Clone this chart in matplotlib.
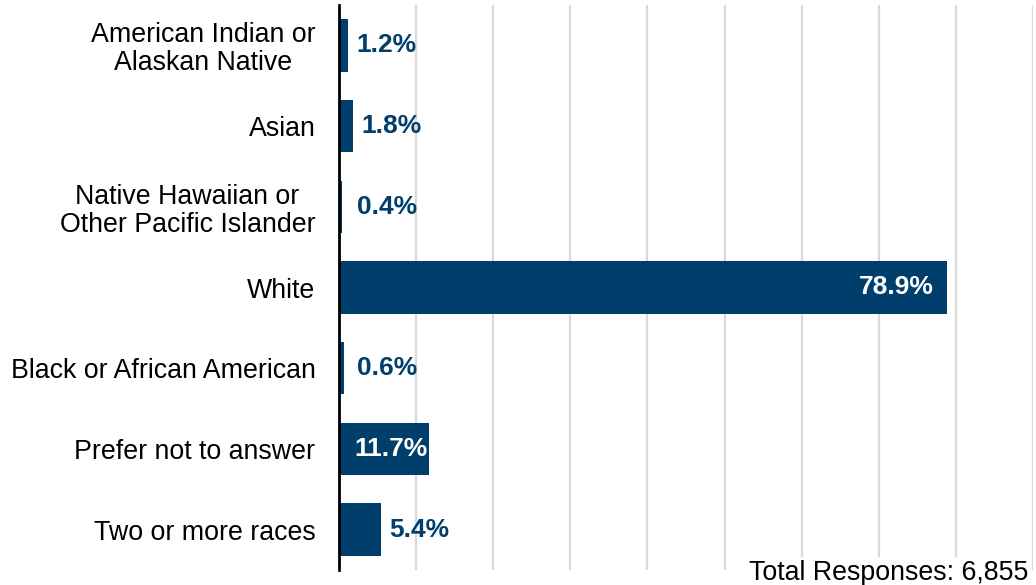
import matplotlib
matplotlib.use("Agg")
import matplotlib.pyplot as plt

# datos
categorias = ["American Indian or\nAlaskan Native", "Asian",
              "Native Hawaiian or\nOther Pacific Islander", "White",
              "Black or African American", "Prefer not to answer",
              "Two or more races"]
valores = [1.2, 1.8, 0.4, 78.9, 0.6, 11.7, 5.4]
etiquetas = ["1.2%", "1.8%", "0.4%", "78.9%", "0.6%", "11.7%", "5.4%"]
total_texto = "Total Responses: 6,855"

azul = "#003F6B"
plt.rcParams['font.family'] = ['Liberation Sans', 'DejaVu Sans']

fig = plt.figure(figsize=(10.36, 5.85), dpi=100)
ax = fig.add_axes([339 / 1036, 15 / 585, (1033 - 339) / 1036, 565 / 585])

y = list(range(len(categorias)))
ax.barh(y, valores, height=0.65, color=azul, zorder=3)
ax.set_ylim(len(categorias) - 0.5, -0.5)
ax.set_xlim(0, 90)

ax.set_yticks(y)
ax.set_yticklabels(categorias, fontsize=19.3, linespacing=1.1,
                   multialignment='center')
ax.tick_params(axis='y', length=0, pad=17)
ax.set_xticks(range(0, 91, 10))
ax.tick_params(axis='x', length=0, labelbottom=False)
ax.grid(axis='x', color="#D9D9D9", linewidth=1.6, zorder=0)

for s in ["top", "right", "bottom"]:
    ax.spines[s].set_visible(False)
ax.spines["left"].set_linewidth(2)
ax.spines["left"].set_color("black")
ax.spines["left"].set_zorder(4)

# etiquetas de valor
for i, (v, t) in enumerate(zip(valores, etiquetas)):
    if v > 10:
        ax.annotate(t, (v, i), xytext=(-10 if v > 50 else -1, 0),
                    textcoords='offset points', ha='right', va='center',
                    color='white', fontsize=19, fontweight='bold', zorder=5)
    else:
        ax.annotate(t, (max(v, 1.2), i), xytext=(6, 0),
                    textcoords='offset points', ha='left', va='center',
                    color=azul, fontsize=19, fontweight='bold', zorder=5)

fig.text(1028 / 1036, 1 - 580 / 585, total_texto, ha='right', va='baseline',
         fontsize=19.3, color='black',
         bbox=dict(facecolor='white', edgecolor='none', pad=2))

fig.savefig("out.png", dpi=100)
